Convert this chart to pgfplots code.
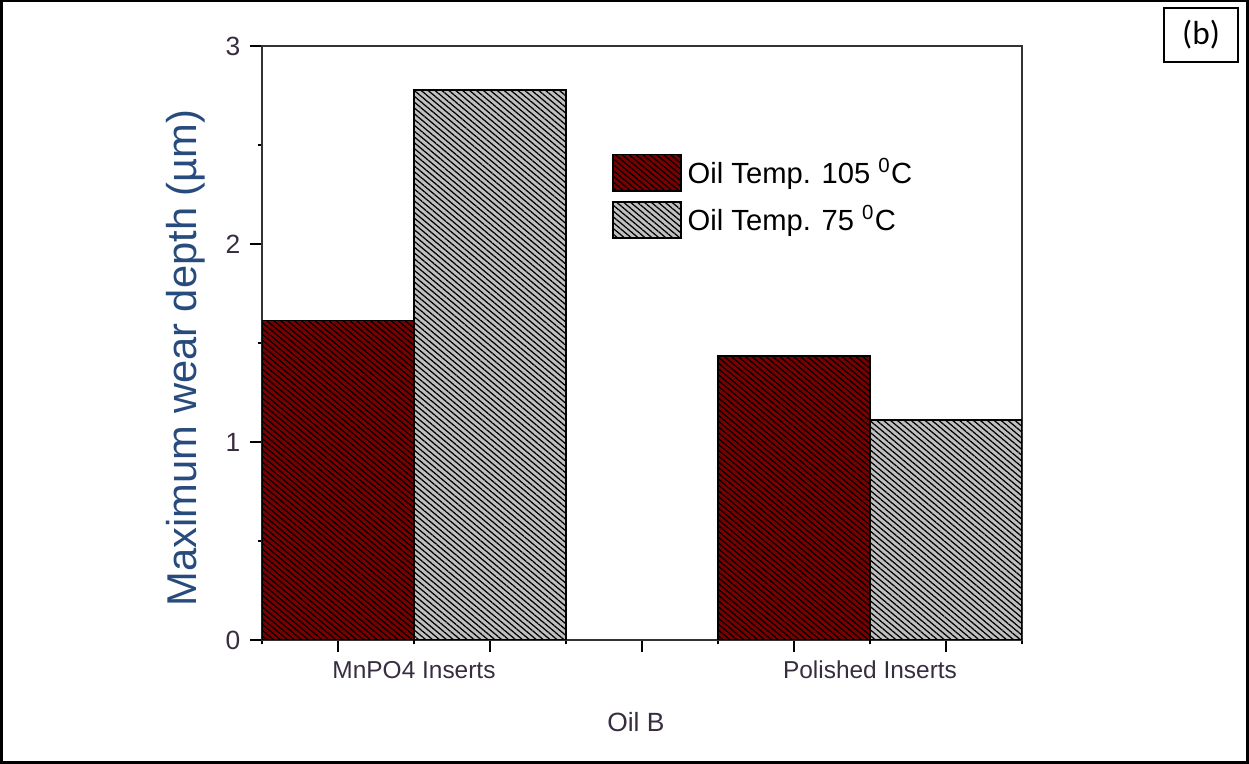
\documentclass[border=0pt]{standalone}
\usepackage{pgfplots}
\pgfplotsset{compat=1.18}
\usepackage{fontspec}
\setmainfont{Liberation Sans}
\newfontfamily\calibri{Carlito}
\usetikzlibrary{patterns.meta}
\definecolor{barred}{RGB}{122,0,0}
\definecolor{bargray}{RGB}{192,192,192}
\definecolor{ylab}{RGB}{40,75,125}
\definecolor{ticktext}{RGB}{55,45,65}
\begin{document}
\begin{tikzpicture}
\useasboundingbox (-94.32pt,-44.64pt) rectangle (355.32pt,230.4pt);
\draw[line width=0.8pt] (-93.8pt,-44.1pt) rectangle (354.8pt,229.9pt);
\draw[line width=0.5pt] (324.7pt,208.1pt) rectangle (351.4pt,227.5pt);
\node at (338.05pt,217.8pt) {\calibri\fontsize{12}{14}\selectfont (b)};
\begin{axis}[
  at={(0pt,0pt)}, anchor=south west,
  scale only axis, width=273.6pt, height=213.84pt,
  xmin=0, xmax=10, ymin=0, ymax=3,
  axis line style={line width=0.7pt, black!80},
  tick style={line width=0.7pt, black},
  tick align=outside,
  xtick pos=bottom, ytick pos=left,
  xtick={1,3,5,7,9}, xticklabels={},
  minor xtick={0,2,4,6,8,10},
  major tick length=4.3pt, minor tick length=1.6pt,
  extra x ticks={2,8},
  extra x tick labels={MnPO4 Inserts, Polished Inserts},
  extra x tick style={major tick length=1.6pt, tick label style={yshift=-2.5pt}},
  ytick={0,1,2,3}, minor ytick={0.5,1.5,2.5},
  tick label style={font=\fontsize{9.5}{11}\selectfont, color=ticktext},
  x tick label style={font=\fontsize{8.8}{10}\selectfont},
  /pgf/number format/assume math mode=true,
  ylabel={Maximum wear depth (µm)},
  ylabel style={font=\fontsize{15}{18}\selectfont, color=ylab, at={(axis description cs:-0.101,0.475)}, anchor=center},
  xlabel={Oil B},
  xlabel style={font=\fontsize{9.5}{11}\selectfont, color=ticktext, at={(axis description cs:0.492,-0.138)}, anchor=center},
  ybar, bar shift=0pt, bar width=2,
  legend style={draw=none, fill=none, at={(axis description cs:0.46,0.822)}, anchor=north west,
    font=\fontsize{10.5}{12}\selectfont, row sep=2.6pt, inner sep=0pt,
    /tikz/every even column/.append style={column sep=2pt}},
  legend cell align=left,
  legend image code/.code={\draw[#1, line width=0.7pt] (0pt,-6.5pt) rectangle (24.5pt,6.5pt);},
]
\addplot[draw=black, line width=0.6pt, fill=barred,
  postaction={pattern={Lines[angle=-40, distance=1.6pt, line width=0.45pt]}, pattern color=black}]
  coordinates {(1,1.613) (7,1.434)};
\addlegendentry{Oil Temp. 105 \textsuperscript{0}C}
\addplot[draw=black, line width=0.6pt, fill=bargray,
  postaction={pattern={Lines[angle=-40, distance=1.6pt, line width=0.45pt]}, pattern color=black}]
  coordinates {(3,2.778) (9,1.111)};
\addlegendentry{Oil Temp. 75 \textsuperscript{0}C}
\end{axis}
\end{tikzpicture}
\end{document}
